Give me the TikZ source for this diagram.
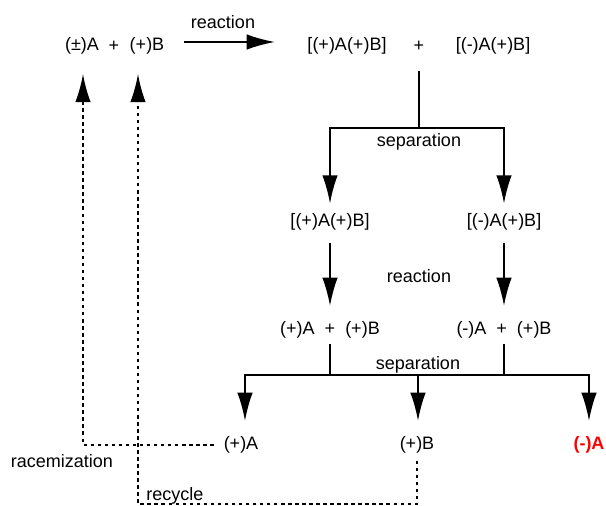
\documentclass[tikz,border=0pt]{standalone}
\usepackage{fontspec}
\setmainfont{Liberation Sans}
\usetikzlibrary{arrows.meta}
\begin{document}
\begin{tikzpicture}[
    x = 0.025cm, y = -0.025cm,
    chem/.style = {font = \fontsize{12.8}{15}\selectfont, inner sep = 1pt},
    bar/.style = {line width = 1.3pt},
    flow/.style = {bar, -{Latex[length = 20pt, width = 11pt]}},
    back/.style = {bar, dash pattern = on 2.5pt off 2.5pt,
                   -{Latex[length = 20pt, width = 11pt]}}
  ]
  \useasboundingbox (0, 0) rectangle (606, 506);

  % starting materials and salts
  \node[chem] (racA) at (82, 46) {(±)A};
  \node[chem] (plusL) at (114, 46) {+};
  \node[chem] (posB) at (147, 46) {(+)B};
  \node[chem] (salt1) at (347, 46) {[(+)A(+)B]};
  \node[chem] (plusR) at (419, 46) {+};
  \node[chem] (salt2) at (493, 46) {[(-)A(+)B]};

  % separated salts and cleaved mixtures
  \node[chem] (sep1) at (330, 222) {[(+)A(+)B]};
  \node[chem] (sep2) at (504, 222) {[(-)A(+)B]};
  \node[chem] (mix1) at (330, 330) {(+)A\ \ +\ \ (+)B};
  \node[chem] (mix2) at (504, 330) {(-)A\ \ +\ \ (+)B};

  % products
  \node[chem] (prodA) at (241, 445) {(+)A};
  \node[chem] (prodB) at (417, 445) {(+)B};
  \node[chem, text = red, font = \fontsize{12.8}{15}\selectfont\bfseries]
    (prodR) at (589, 445) {(-)A};

  % labels
  \node[chem] (lblRx1) at (223, 22) {reaction};
  \node[chem] (lblSep1) at (419, 142) {separation};
  \node[chem] (lblRx2) at (419, 276) {reaction};
  \node[chem] (lblSep2) at (418, 365) {separation};
  \node[chem] (lblRac) at (62, 461) {racemization};
  \node[chem] (lblRec) at (175, 496) {recycle};

  \coordinate (fork1) at (419, 128);
  \coordinate (fork2) at (418, 375);
  \coordinate (tipA) at (83, 74);
  \coordinate (tipB) at (138, 74);
  \coordinate (loop) at (138, 504);

  \draw[flow, shorten < = 13pt, shorten > = 22pt]
    ([yshift = 0.1cm]posB.east) -- ([yshift = 0.1cm]salt1.west);

  \draw[bar, shorten < = 13pt] (plusR.south) -- (fork1);
  \draw[flow, shorten > = 6pt] (fork1) -| (sep1.north);
  \draw[flow, shorten > = 6pt] (fork1) -| (sep2.north);

  \draw[flow, shorten < = 8pt, shorten > = 10pt] (sep1.south) -- (mix1.north);
  \draw[flow, shorten < = 8pt, shorten > = 10pt] (sep2.south) -- (mix2.north);

  \draw[bar, shorten < = 3pt] (mix1.south) -- (mix1.south |- fork2);
  \draw[bar, shorten < = 3pt] (mix2.south) -- (mix2.south |- fork2);
  \draw[flow, shorten > = 10pt] (fork2) -| ([xshift = 0.1cm]prodA.north);
  \draw[flow, shorten > = 10pt] (fork2) -- (prodB.north -| fork2);
  \draw[flow, shorten > = 10pt] (fork2) -| (prodR.north);

  % recycling loops
  \draw[back, shorten < = 6pt] (prodA.west) -| (tipA);
  \draw[back, shorten < = 4pt] (prodB.south) |- (loop) -- (tipB);
\end{tikzpicture}
\end{document}
